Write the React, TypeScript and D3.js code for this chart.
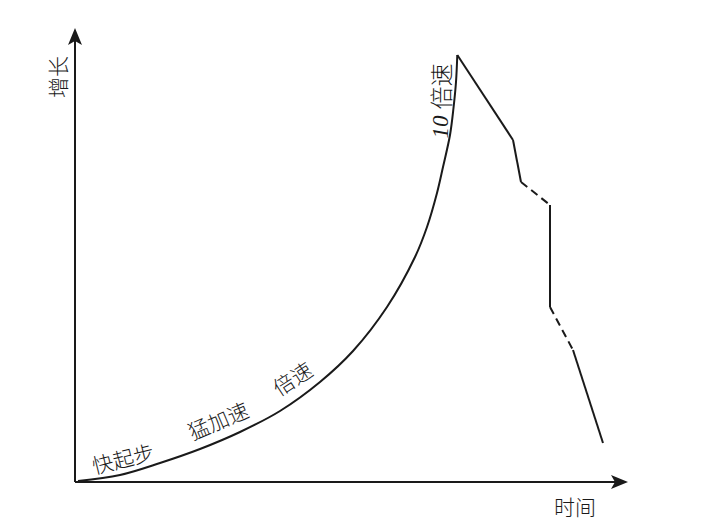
import React from "react";
import * as d3 from "d3";

// growth curve (arbitrary units: time, growth)
const growthTime = [0.6, 9, 17, 25, 33, 41, 49, 55.6, 62.4, 68, 70.4, 72.4, 73.6, 75, 75.7, 76.2, 76.46];
const growthValue = [0.2, 1.4, 3.8, 6.6, 10, 14.2, 20, 26.2, 35, 45, 51, 57.8, 63, 69.4, 74.8, 80, 85.4];

// decline after the peak
const declineTime = [76.46, 87.6, 89.2, 95, 95, 99.6, 105.6];
const declineValue = [85.4, 68.4, 60, 55.4, 35, 26.4, 7.8];
const declineStyle = ["solid", "solid", "dashed", "solid", "dashed", "solid"];

// stage labels placed along the curve
const stageLabels = ["快起步", "猛加速", "倍速"];
const stageTime = [9.6, 28.6, 43.4];
const stageValue = [4.8, 12.4, 20.8];
const stageAngle = [-14, -23, -33];

const axisLabelX = "时间";
const axisLabelY = "增长";
const peakLabelNum = "10";
const peakLabelText = "倍速";

const W = 711;
const H = 527;

export default function App() {
  const x = d3.scaleLinear().domain([0, 110]).range([75, 625]);
  const y = d3.scaleLinear().domain([0, 90]).range([482, 32]);

  const growthPts: [number, number][] = growthTime.map((t, i) => [x(t), y(growthValue[i])]);
  const growthPath = d3.line().curve(d3.curveCatmullRom.alpha(0.5))(growthPts) || "";

  const seg = declineStyle.map((s, i) => ({
    x1: x(declineTime[i]),
    y1: y(declineValue[i]),
    x2: x(declineTime[i + 1]),
    y2: y(declineValue[i + 1]),
    dashed: s === "dashed",
  }));

  const ox = x(0);
  const oy = y(0);
  const yTip = 28;
  const xTip = 628;
  const ink = "#1a1a1a";
  const cjk = "'Noto Sans CJK SC', 'Noto Sans', sans-serif";

  return (
    <svg
      width={W}
      height={H}
      viewBox={`0 0 ${W} ${H}`}
      style={{ position: "absolute", left: 0, top: 0, background: "#fff" }}
    >
      <rect x={0} y={0} width={W} height={H} fill="#fff" />
      {/* axes */}
      <line x1={ox} y1={oy} x2={ox} y2={yTip + 10} stroke={ink} strokeWidth={2} />
      <line x1={ox} y1={oy} x2={xTip - 10} y2={oy} stroke={ink} strokeWidth={2} />
      <path
        d={`M${ox},${yTip} L${ox + 7},${yTip + 17} L${ox},${yTip + 13} L${ox - 7},${yTip + 17} Z`}
        fill={ink}
      />
      <path
        d={`M${xTip},${oy} L${xTip - 17},${oy - 7} L${xTip - 13},${oy} L${xTip - 17},${oy + 7} Z`}
        fill={ink}
      />

      {/* growth curve */}
      <path d={growthPath} fill="none" stroke={ink} strokeWidth={2} strokeLinejoin="round" />

      {/* decline */}
      {seg.map((s, i) => (
        <line
          key={i}
          x1={s.x1}
          y1={s.y1}
          x2={s.x2}
          y2={s.y2}
          stroke={ink}
          strokeWidth={2}
          strokeDasharray={s.dashed ? "8,5" : undefined}
        />
      ))}

      {/* axis labels */}
      <text
        transform={`translate(57,77) rotate(-90)`}
        textAnchor="middle"
        dominantBaseline="central"
        fontFamily={cjk}
        fontWeight={300}
        fontSize={21}
        fill={ink}
      >
        {axisLabelY}
      </text>
      <text
        x={575}
        y={506}
        textAnchor="middle"
        dominantBaseline="central"
        fontFamily={cjk}
        fontWeight={300}
        fontSize={21}
        fill={ink}
      >
        {axisLabelX}
      </text>

      {/* stage labels */}
      {stageLabels.map((s, i) => (
        <text
          key={s}
          transform={`translate(${x(stageTime[i])},${y(stageValue[i])}) rotate(${stageAngle[i]})`}
          textAnchor="middle"
          dominantBaseline="central"
          fontFamily={cjk}
          fontWeight={300}
          fontSize={21}
          fill={ink}
        >
          {s}
        </text>
      ))}

      {/* peak label */}
      <text
        transform={`translate(440,101) rotate(-90)`}
        textAnchor="middle"
        dominantBaseline="central"
        fontSize={23}
        fill={ink}
      >
        <tspan fontFamily="'Liberation Serif', serif" fontStyle="italic">
          {peakLabelNum}
        </tspan>
        <tspan fontFamily={cjk} fontWeight={300} dx={6}>
          {peakLabelText}
        </tspan>
      </text>
    </svg>
  );
}
